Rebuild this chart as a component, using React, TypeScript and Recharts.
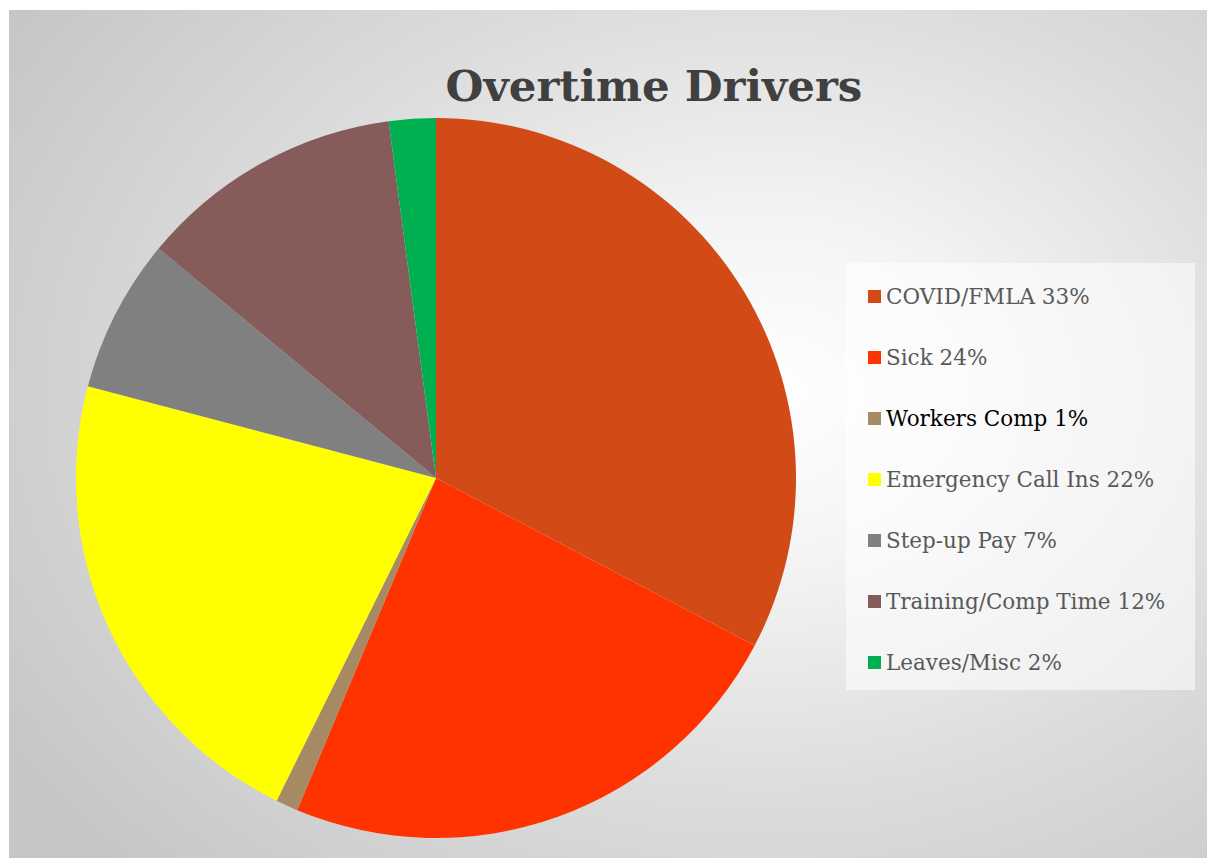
import React from "react";
import { PieChart, Pie, Cell, Legend } from "recharts";

const categories = [
  "COVID/FMLA",
  "Sick",
  "Workers Comp",
  "Emergency Call Ins",
  "Step-up Pay",
  "Training/Comp Time",
  "Leaves/Misc",
];
const values = [32.7, 23.6, 1.0, 21.8, 6.9, 11.9, 2.1];
const labels = ["33%", "24%", "1%", "22%", "7%", "12%", "2%"];
const colors = ["#D24A16", "#FF3300", "#A68A64", "#FFFF00", "#808080", "#855C5A", "#00B050"];
const labelColors = ["#595959", "#595959", "#000000", "#595959", "#595959", "#595959", "#595959"];

const data = categories.map((name, i) => ({ name, value: values[i], pct: labels[i] }));

const FONT = "'DejaVu Serif', serif";

function LegendBox(props: any) {
  const payload = props.payload || [];
  return (
    <div
      style={{
        width: 349,
        height: 427,
        background: "rgba(255,255,255,0.55)",
        boxSizing: "border-box",
        paddingTop: 3,
        paddingLeft: 22,
      }}
    >
      {payload.map((p: any, i: number) => (
        <div
          key={i}
          style={{ display: "flex", alignItems: "center", height: 61, fontFamily: FONT, fontSize: 21.5, whiteSpace: "nowrap" }}
        >
          <span style={{ width: 13, height: 13, background: colors[i], marginRight: 5, display: "inline-block", flexShrink: 0 }} />
          <span style={{ color: labelColors[i] }}>
            {categories[i]} {labels[i]}
          </span>
        </div>
      ))}
    </div>
  );
}

export default function App() {
  return (
    <>
      <style>{"body{margin:0}"}</style>
      <div
        style={{
          position: "relative",
          marginLeft: 9,
          marginTop: 10,
          width: 1198,
          height: 848,
          overflow: "hidden",
          background: "radial-gradient(ellipse 75% 80% at 63% 45%, #ffffff 0%, #f4f4f4 25%, #dcdcdc 60%, #c6c6c6 100%)",
        }}
      >
        <div
          style={{
            position: "absolute",
            left: 0,
            width: 1290,
            top: 50,
            textAlign: "center",
            fontFamily: FONT,
            fontWeight: "bold",
            fontSize: 43.5,
            color: "#404040",
          }}
        >
          Overtime Drivers
        </div>
        <PieChart
          width={1198}
          height={848}
          margin={{ top: 0, right: 0, bottom: 0, left: 0 }}
          style={{ position: "absolute", left: 0, top: 0 }}
        >
          <Pie
            data={data}
            dataKey="value"
            nameKey="name"
            cx={427}
            cy={468}
            outerRadius={360}
            startAngle={90}
            endAngle={-270}
            stroke="none"
            isAnimationActive={false}
          >
            {data.map((d, i) => (
              <Cell key={d.name} fill={colors[i]} />
            ))}
          </Pie>
          <Legend
            content={<LegendBox />}
            layout="vertical"
            verticalAlign="top"
            align="right"
            wrapperStyle={{ position: "absolute", left: 837, top: 253, width: 349, height: 427 }}
          />
        </PieChart>
      </div>
    </>
  );
}
